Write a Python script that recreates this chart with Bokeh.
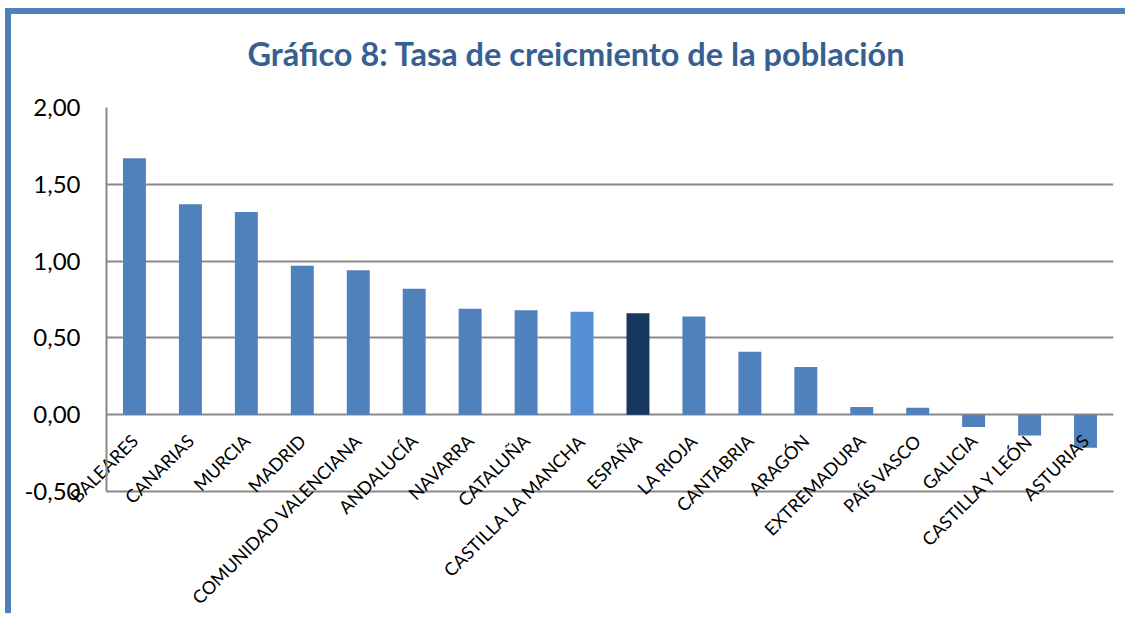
from bokeh.plotting import figure
from bokeh.models import ColumnDataSource, FixedTicker, Range1d, FactorRange, Title
from bokeh.embed import file_html
from bokeh.resources import INLINE
import math

categories = ["BALEARES", "CANARIAS", "MURCIA", "MADRID", "COMUNIDAD VALENCIANA",
              "ANDALUCÍA", "NAVARRA", "CATALUÑA", "CASTILLA LA MANCHA", "ESPAÑA",
              "LA RIOJA", "CANTABRIA", "ARAGÓN", "EXTREMADURA", "PAÍS VASCO",
              "GALICIA", "CASTILLA Y LEÓN", "ASTURIAS"]
values = [1.67, 1.37, 1.32, 0.97, 0.94, 0.82, 0.69, 0.68, 0.67, 0.66,
          0.64, 0.41, 0.31, 0.05, 0.045, -0.08, -0.135, -0.215]
ytick_values = [-0.5, 0.0, 0.5, 1.0, 1.5, 2.0]
ytick_labels = ["-0,50", "0,00", "0,50", "1,00", "1,50", "2,00"]
title_text = "Gráfico 8: Tasa de creicmiento de la población"

BASE = "#4F81BD"
highlight = {"CASTILLA LA MANCHA": "#558ED5", "ESPAÑA": "#17375E"}
colors = [highlight.get(c, BASE) for c in categories]

src = ColumnDataSource(dict(cat=categories, val=values, color=colors))

p = figure(x_range=FactorRange(*categories, range_padding=0),
           y_range=Range1d(-0.5, 2.0),
           width=1120, height=605, title=None,
           output_backend="svg", toolbar_location=None,
           min_border_left=95, min_border_right=18,
           min_border_top=93, min_border_bottom=126)
p.styles = {"margin-left": "5px", "margin-top": "8px",
            "border-left": "6px solid #4F81BD", "border-top": "6px solid #4F81BD"}

p.vbar(x="cat", top="val", bottom=0, width=0.41, fill_color="color",
       line_color=None, source=src)

# spacer between the title and the plot area (nearest the frame)
spacer = Title(text=" ", text_font_size="10px", standoff=22)
p.add_layout(spacer, "above")
main_title = Title(text=title_text, text_font="Lato", text_font_style="bold",
                   text_font_size="32.5px", text_color="#376092",
                   align="left", offset=141, vertical_align="bottom", standoff=0)
p.add_layout(main_title, "above")

p.outline_line_color = None
p.background_fill_color = "white"
p.border_fill_color = "white"

p.xgrid.grid_line_color = None
p.ygrid.grid_line_color = "#898989"
p.ygrid.grid_line_width = 2
p.yaxis.ticker = FixedTicker(ticks=ytick_values)
p.yaxis.major_label_overrides = {v: l for v, l in zip(ytick_values, ytick_labels)}
p.yaxis.major_label_text_font = "Lato"
p.yaxis.major_label_text_font_size = "24px"
p.yaxis.major_label_text_color = "black"
p.yaxis.major_tick_out = 0
p.yaxis.major_tick_in = 0
p.yaxis.minor_tick_line_color = None
p.yaxis.major_label_standoff = 26
p.yaxis.axis_line_color = "#898989"
p.yaxis.axis_line_width = 2

p.xaxis.axis_line_color = "#898989"
p.xaxis.axis_line_width = 2
p.xaxis.major_tick_line_color = None
p.xaxis.major_label_orientation = math.pi / 4
p.xaxis.major_label_text_font = "Lato"
p.xaxis.major_label_text_font_size = "18px"
p.xaxis.major_label_text_color = "black"
p.xaxis.major_label_standoff = -60

open("out.html", "w").write(file_html(p, INLINE))
